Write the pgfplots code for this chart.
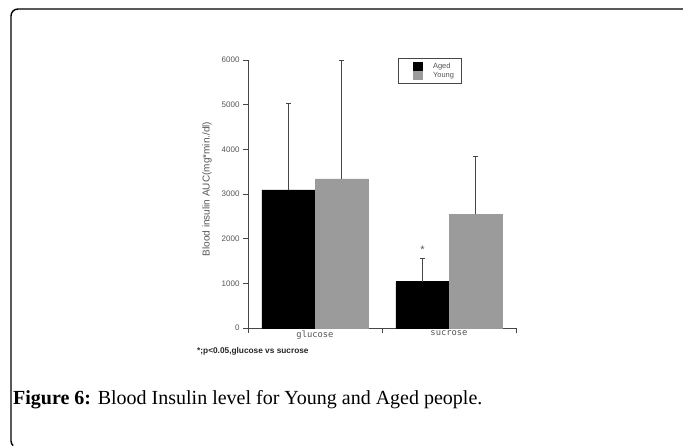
\documentclass[border=0pt]{standalone}
\usepackage{fontspec}
\setmainfont{Liberation Sans}
\newfontfamily\capfont{Liberation Serif}
\newfontfamily\monofont{DejaVu Sans Mono}
\usepackage{pgfplots}
\pgfplotsset{compat=1.18}
\definecolor{barGray}{RGB}{155,155,155}
\definecolor{axGray}{RGB}{70,70,70}
\definecolor{txtGray}{RGB}{85,85,85}
\begin{document}
\begin{tikzpicture}
\useasboundingbox (0,0) rectangle (683bp,-446bp);
% frame
\draw[line width=1.4bp] (683bp,-9bp) -- (18bp,-9bp) arc[start angle=90,end angle=180,radius=7bp] -- (11bp,-441bp) arc[start angle=180,end angle=230,radius=6bp];
\begin{axis}[
  at={(248bp,-328bp)}, anchor=south west,
  scale only axis, width=268bp, height=268bp,
  xmin=-0.5, xmax=1.5, ymin=0, ymax=6000,
  axis lines*=left,
  axis line style={axGray, line width=0.9bp},
  every tick/.style={axGray, line width=0.9bp},
  tick align=outside, major tick length=5bp,
  xtick={-0.5,0.5,1.5}, xticklabels={},
  extra x ticks={0,1}, extra x tick labels={glucose,sucrose},
  extra x tick style={major tick length=0bp, xticklabel style={font=\monofont\fontsize{8.8bp}{10bp}\selectfont, text=txtGray, yshift=1bp}},
  ytick={0,1000,2000,3000,4000,5000,6000},
  yticklabel style={font=\fontsize{8bp}{9bp}\selectfont, text=txtGray},
  /pgf/number format/assume math mode=true,
  /pgf/number format/1000 sep={},
  ylabel={Blood insulin AUC(mg*min./dl)},
  ylabel style={at={(axis description cs:-0.153,0.519)}, anchor=center, font=\fontsize{10bp}{12bp}\selectfont, text=txtGray},
  clip=false,
  ybar=0pt, bar width=0.396,
  legend cell align=left,
  legend style={at={(0.5597,1.0075)}, anchor=north west, draw=axGray, line width=0.7bp,
    inner xsep=0bp, inner ysep=4bp, row sep=0bp,
    nodes={inner sep=0bp, text height=6bp, text depth=2bp, font=\fontsize{7.5bp}{8bp}\selectfont, text=txtGray, text width=28bp}},
  error bars/error bar style={axGray, line width=0.9bp},
  error bars/error mark options={rotate=90, mark size=2.5bp, line width=0.9bp, axGray},
]
\addplot[fill=black, draw=black,
  legend image code/.code={\path (-15bp,0) (19bp,0); \fill[black] (0bp,-4bp) rectangle (9bp,4bp);},
  error bars/.cd, y dir=plus, y explicit]
  coordinates {(0,3090) +- (0,1930) (1,1040) +- (0,520)};
\addlegendentry{Aged}
\addplot[fill=barGray, draw=barGray,
  legend image code/.code={\path (-15bp,0) (19bp,0); \fill[barGray] (0bp,-4bp) rectangle (9bp,4bp);},
  error bars/.cd, y dir=plus, y explicit]
  coordinates {(0,3340) +- (0,2660) (1,2545) +- (0,1285)};
\addlegendentry{Young}
\node[anchor=base, font=\fontsize{11bp}{12bp}\selectfont, text=txtGray] at (axis cs:0.802,1670) {*};
\end{axis}
\node[anchor=base west, inner sep=0pt, font=\bfseries\fontsize{8.3bp}{10bp}\selectfont, text=black!85] at (197bp,-353bp) {*;p<0.05,glucose vs sucrose};
\node[anchor=base west, inner sep=0pt, font=\capfont\fontsize{20bp}{24bp}\selectfont] at (13bp,-404bp) {\textbf{Figure 6:} Blood Insulin level for Young and Aged people.};
\end{tikzpicture}
\end{document}
